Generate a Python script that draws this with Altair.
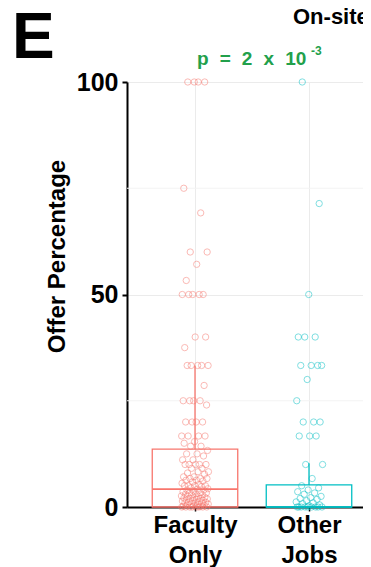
import json
import altair as alt
import pandas as pd

# ---------------- data ----------------
groups = ["Faculty Only", "Other Jobs"]
group_colors = ["#F8766D", "#00BFC4"]

faculty_values = [
    100, 100, 100, 100, 75, 69.2, 60, 60, 57.1, 53.3, 50, 50, 50, 50, 50,
    40, 40, 37.5, 33.3, 33.3, 33.3, 33.3, 33.3, 28.6, 25, 25, 25, 25, 24,
    20, 20, 20, 20, 16.7, 16.7, 16.7, 16.7, 15.4, 15, 14.3, 14.3,
    13.3, 12.5, 12.5, 12, 11.1, 11.1, 10, 10, 10, 10, 10, 9.1, 9.1, 8.3, 8.3,
    8, 7.7, 7.1, 7.1, 6.7, 6.7, 6.7, 6.3, 6.3, 6.1, 5.9, 5.6, 5.3, 5, 5, 5, 5,
    4.8, 4.5, 4.3, 4.2, 4, 4, 3.8, 3.6, 3.4, 3.3, 3.3, 3.1, 3, 2.9, 2.8, 2.6,
    2.5, 2.5, 2.3, 2.2, 2.1, 2, 2, 1.9, 1.8, 1.7, 1.6, 1.5, 1.4, 1.3, 1.2, 1.1,
    1, 1, 0.9, 0.8, 0.7, 0.6, 0.5, 0.4, 0.3, 0.2, 0.1, 0, 0, 0, 0, 0, 0, 0, 0,
]
other_values = [
    100, 71.4, 50, 40, 40, 40, 33.3, 33.3, 33.3, 33.3, 30, 25, 20, 20, 20,
    16.7, 16.7, 16.7, 10, 10, 6.7, 5, 4.5, 4, 3.6, 3.3, 3, 2.5, 2.2, 2, 1.8,
    1.5, 1.2, 1, 0.8, 0.5, 0.3, 0, 0, 0, 0, 0, 0, 0, 0, 0,
]

box_q1 = [0, 0]
box_median = [4.2, 0]
box_q3 = [13.6, 5.2]
whisker_high = [33.3, 10.3]

y_tick_values = [0, 50, 100]
y_minor_grid = [25, 75]

panel_letter = ["E"]
panel_title = ["On-site"]
p_text_main = ["p\u2002\u200a=\u2002\u200a2\u2002\u200ax\u2002\u200a10"]
p_text_sup = ["-3"]

# ---------------- tables ----------------
points = pd.DataFrame(
    {"group": [groups[0]] * len(faculty_values) + [groups[1]] * len(other_values),
     "gi": [0] * len(faculty_values) + [1] * len(other_values),
     "value": faculty_values + other_values}
)
stats = pd.DataFrame(
    {"group": groups, "gi": list(range(len(groups))), "q1": box_q1,
     "median": box_median, "q3": box_q3, "hi": whisker_high}
)
minor = pd.DataFrame({"v": y_minor_grid})

FONT = "Liberation Sans"
BOX_HALF = 0.375      # half box width in category units
JITTER = 0.12         # jitter half-width in category units

x_scale = alt.Scale(domain=[-0.5965, 1.4737], nice=False, zero=False)
y_scale = alt.Scale(domain=[0, 100], nice=False, zero=True)
color_scale = alt.Scale(domain=groups, range=group_colors)

label_lines = json.dumps([g.split(" ") for g in groups])

x_axis = alt.Axis(
    values=list(range(len(groups))), title=None,
    labelExpr=f"{label_lines}[datum.value]", labelAngle=0,
    labelFont=FONT, labelFontSize=24, labelFontWeight="bold", labelColor="black",
    labelLineHeight=30, labelPadding=2, labelBaseline="top", labelFlush=False,
    labelOverlap=False,
    tickSize=4, tickWidth=1.5, tickColor="black",
    domainColor="black", domainWidth=2,
    grid=True, gridColor="#EBEBEB", gridWidth=1,
)

y_axis = alt.Axis(
    values=y_tick_values, title="Offer Percentage",
    titleFont=FONT, titleFontSize=24, titleFontWeight="bold", titleColor="black",
    titleX=-63, titleY=174, titleAngle=270, titleBaseline="alphabetic", titleAlign="center",
    labelFont=FONT, labelFontSize=25, labelFontWeight="bold", labelColor="black",
    labelPadding=4, tickSize=5, tickWidth=2, tickColor="black",
    domainColor="black", domainWidth=2,
    grid=True, gridColor="#EBEBEB", gridWidth=1,
)

minor_grid = alt.Chart(minor).mark_rule(color="#F3F3F3", strokeWidth=1).encode(
    y=alt.Y("v:Q", scale=y_scale)
)

stats_base = alt.Chart(stats).transform_calculate(
    xl=f"datum.gi - {BOX_HALF}", xr=f"datum.gi + {BOX_HALF}"
)

box = stats_base.mark_rect(fillOpacity=0, strokeWidth=1.3).encode(
    x=alt.X("xl:Q", scale=x_scale, axis=x_axis),
    x2="xr:Q",
    y=alt.Y("q1:Q", scale=y_scale, axis=y_axis),
    y2="q3:Q",
    stroke=alt.Color("group:N", scale=color_scale, legend=None),
)

median = stats_base.mark_rule(strokeWidth=1.6).encode(
    x=alt.X("xl:Q", scale=x_scale),
    x2="xr:Q",
    y=alt.Y("median:Q", scale=y_scale),
    color=alt.Color("group:N", scale=color_scale, legend=None),
)

whisker = alt.Chart(stats).mark_rule(strokeWidth=1.3).encode(
    x=alt.X("gi:Q", scale=x_scale),
    y=alt.Y("q3:Q", scale=y_scale),
    y2="hi:Q",
    color=alt.Color("group:N", scale=color_scale, legend=None),
)

dots = alt.Chart(points).transform_window(
    idx="row_number()"
).transform_calculate(
    jx=f"datum.gi + (((datum.idx * 0.6180339887) % 1) * 2 - 1) * {JITTER}"
).mark_point(shape="circle", filled=False, size=40, strokeWidth=1, opacity=0.5).encode(
    x=alt.X("jx:Q", scale=x_scale),
    y=alt.Y("value:Q", scale=y_scale),
    color=alt.Color("group:N", scale=color_scale, legend=None),
)

letter = alt.Chart(pd.DataFrame({"t": panel_letter})).mark_text(
    font=FONT, fontSize=64, fontWeight="bold", color="black", align="left",
    baseline="alphabetic"
).encode(text="t:N", x=alt.value(-115), y=alt.value(-24))

title = alt.Chart(pd.DataFrame({"t": panel_title})).mark_text(
    font=FONT, fontSize=22, fontWeight="bold", color="black", align="left",
    baseline="alphabetic"
).encode(text="t:N", x=alt.value(166), y=alt.value(-58))

ptext = alt.Chart(pd.DataFrame({"t": p_text_main})).mark_text(
    font=FONT, fontSize=19, fontWeight="bold", color="#22A04B", align="left",
    baseline="alphabetic"
).encode(text="t:N", x=alt.value(70), y=alt.value(-17))

psup = alt.Chart(pd.DataFrame({"t": p_text_sup})).mark_text(
    font=FONT, fontSize=12, fontWeight="bold", color="#22A04B", align="left",
    baseline="alphabetic"
).encode(text="t:N", x=alt.value(184), y=alt.value(-27))

chart = alt.layer(
    minor_grid, box, median, whisker, dots, letter, title, ptext, psup
).properties(
    width=236, height=425,
    autosize=alt.AutoSizeParams(type="none"),
    padding={"left": 119, "top": 74, "right": 0, "bottom": 60},
).configure_view(stroke=None).configure(background="white")

chart.save("out.html", embed_options={"renderer": "svg", "actions": False})
